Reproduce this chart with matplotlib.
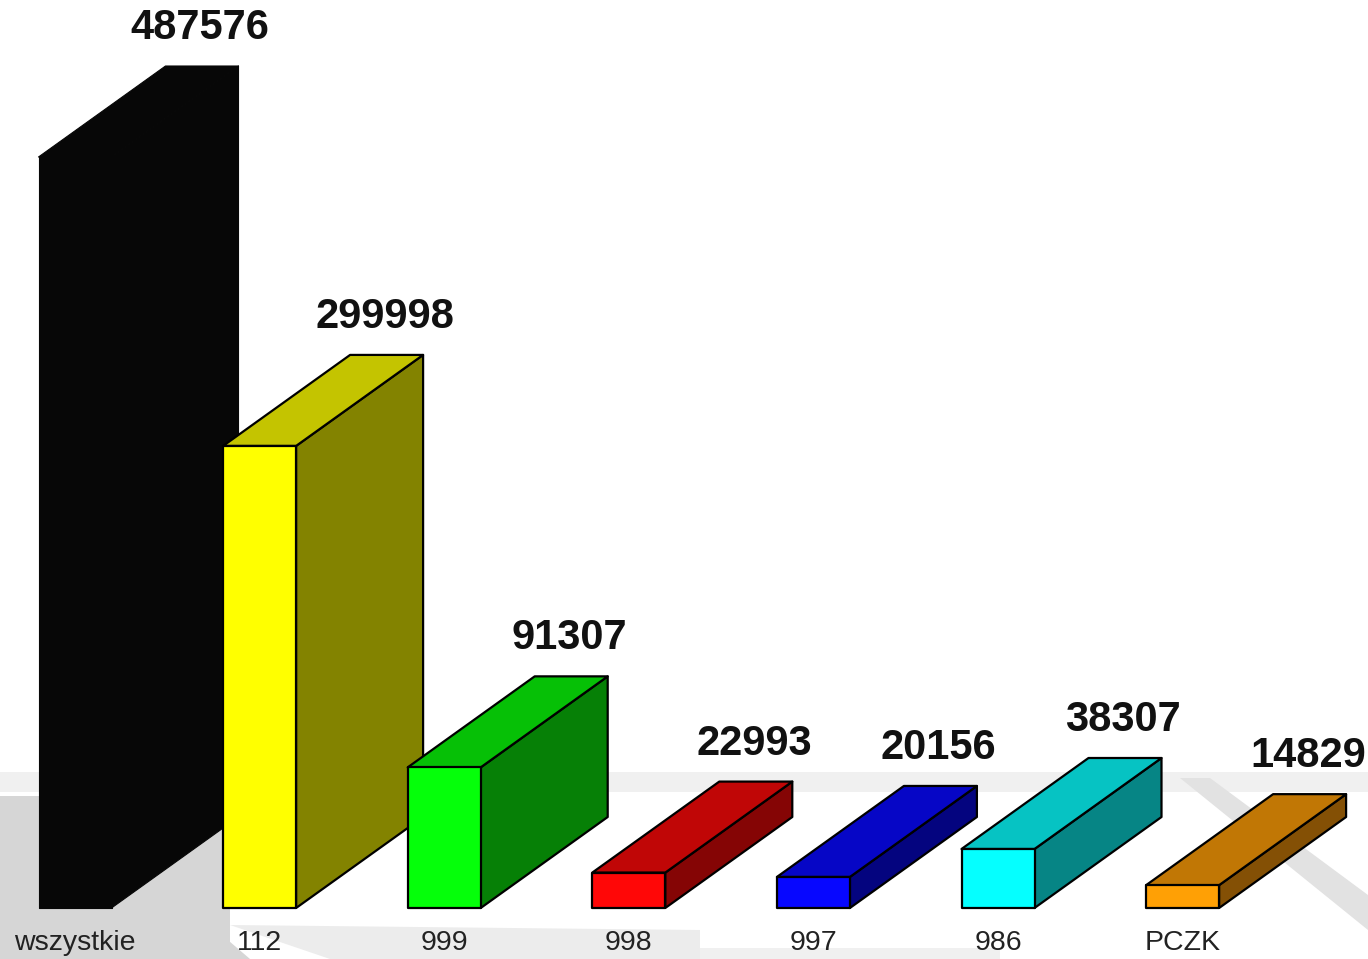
import matplotlib
matplotlib.use('Agg')
import matplotlib.pyplot as plt
from matplotlib.patches import Polygon
import numpy as np

# data
categories = ['wszystkie', '112', '999', '998', '997', '986', 'PCZK']
values = [487576, 299998, 91307, 22993, 20156, 38307, 14829]

# face colours: front, top, side
front_colors = ['#070707', '#ffff00', '#05ff0a', '#ff0707', '#0707ff', '#05ffff', '#ffa005']
top_colors = ['#070707', '#c4c400', '#06c006', '#c00606', '#0606c6', '#06c3c3', '#c17705']
side_colors = ['#070707', '#838300', '#068006', '#850505', '#04047f', '#068585', '#845005']

W, H = 1368, 959
fig = plt.figure(figsize=(W / 100, H / 100), dpi=100)

# background decoration (faint grey floor shadows), pixel coordinates
bg = fig.add_axes([0, 0, 1, 1])
bg.set_xlim(0, W)
bg.set_ylim(H, 0)
bg.axis('off')
shade = [
    ([(0, 772), (W, 772), (W, 792), (0, 792)], '#f0f0f0'),
    ([(0, 796), (60, 796), (250, 959), (0, 959)], '#d6d6d6'),
    ([(112, 830), (230, 790), (230, 959), (112, 959)], '#d6d6d6'),
    ([(230, 925), (700, 930), (700, 959), (330, 959)], '#ececec'),
    ([(1180, 778), (1210, 778), (1368, 895), (1368, 930)], '#e2e2e2'),
    ([(700, 948), (1000, 948), (1000, 959), (700, 959)], '#f0f0f0'),
]
for pts, c in shade:
    bg.add_patch(Polygon(pts, closed=True, facecolor=c, edgecolor='none'))

ax = fig.add_axes([0, 0, 1, 1])
ax.patch.set_alpha(0)
ax.axis('off')

px_per_cat = 184.6
scale = 487576 / 751.0  # value units per pixel
ax.set_xlim(-75 / px_per_cat, (W - 75) / px_per_cat)
ax.set_ylim(-51 * scale, (H - 51) * scale)

bw = 73 / px_per_cat          # front face width
ddx = 127 / px_per_cat        # depth offset x
ddy = 91 * scale              # depth offset y

for i, (v, fc, tc, sc) in enumerate(zip(values, front_colors, top_colors, side_colors)):
    x0 = i - bw / 2
    x1 = i + bw / 2
    ec = fc if i == 0 else 'black'
    lw = 0.8 if i == 0 else 1.6
    side = [(x1, 0), (x1 + ddx, ddy), (x1 + ddx, v + ddy), (x1, v)]
    top = [(x0, v), (x1, v), (x1 + ddx, v + ddy), (x0 + ddx, v + ddy)]
    front = [(x0, 0), (x1, 0), (x1, v), (x0, v)]
    for pts, c in ((side, sc), (top, tc), (front, fc)):
        ax.add_patch(Polygon(pts, closed=True, facecolor=c, edgecolor=ec,
                             linewidth=lw, joinstyle='round'))
    ax.annotate(f'{v}', xy=(i + ddx - 0.01, v + ddy), xytext=(0, 13),
                textcoords='offset points', ha='center', va='bottom',
                fontsize=30, fontweight='bold', family='Liberation Sans',
                color='#111111')
    ax.annotate(categories[i], xy=(i, 0), xytext=(0, -25.5),
                textcoords='offset points', ha='center', va='center',
                fontsize=20.5, family='Liberation Sans', color='#222222')

fig.savefig('out.png', dpi=100)
